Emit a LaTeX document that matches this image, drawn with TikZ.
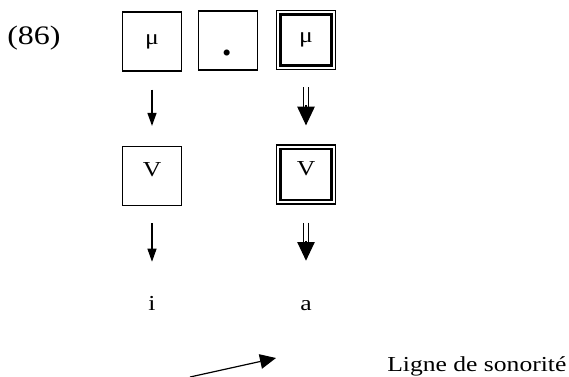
\documentclass[tikz,border=0pt]{standalone}
\usepackage{fontspec}
\setmainfont{Liberation Serif}
\usetikzlibrary{arrows.meta}
\newcommand{\widetxt}[1]{\scalebox{1.2}[1]{#1}}

\begin{document}
\begin{tikzpicture}[
    box/.style={draw, line width=0.9pt, minimum size=44.25pt, inner sep=0pt,
                font=\fontsize{16}{19}\selectfont},
    vbox/.style={box, text depth=9pt},
    inbox/.style={line width=1.9pt},
    arr/.style={-{Triangle[length=9.75pt, width=6.75pt]}, line width=0.9pt},
    dshaft/.style={double, double distance=2.5pt, line width=0.9pt},
    dtip/.style={-{Triangle[length=14pt, width=13pt]}, line width=0.9pt},
    lab/.style={font=\fontsize{16}{19}\selectfont, inner sep=0pt,
                anchor=base, text height=12pt},
    x=0.75pt, y=-0.75pt
  ]
  \useasboundingbox (0,0) rectangle (569,376);

  % example number
  \node[font=\fontsize{20}{24}\selectfont, inner sep=0pt, anchor=base west]
    (num) at (7,44) {\widetxt{(86)}};

  % top row: mu . mu
  \node[box] (m1) at (152,41.5) {\widetxt{μ}};
  \node[box] (m2) at (228,40.5) {};
  \node[font=\bfseries\fontsize{28}{30}\selectfont, inner sep=0pt, anchor=base]
    (dot) at (227,55) {.};
  \node[box] (m3) at (306,40) {\widetxt{μ}};
  \draw[inbox] ([shift={(3.3pt,-3.3pt)}]m3.north west)
    rectangle ([shift={(-3.3pt,3.3pt)}]m3.south east);

  % middle row: V V
  \node[vbox] (v1) at (152,176) {\widetxt{V}};
  \node[vbox] (v2) at (306,174.5) {\widetxt{V}};
  \draw[inbox] ([shift={(3.3pt,-3.3pt)}]v2.north west)
    rectangle ([shift={(-3.3pt,3.3pt)}]v2.south east);

  % bottom row: i a
  \node[lab] (li) at (152,310) {\widetxt{i}};
  \node[lab] (la) at (306,310) {\widetxt{a}};

  % left column
  \draw[arr, shorten <=13.5pt, shorten >=15pt] (m1) -- (v1);
  \draw[arr, shorten <=13pt, shorten >=24pt] (v1) -- (li);

  % right column
  \draw[dshaft, shorten <=12.75pt, shorten >=27pt] (m3) -- (v2);
  \draw[dtip, shorten <=26.25pt, shorten >=14.25pt] (m3) -- (v2);
  \draw[dshaft, shorten <=13.5pt, shorten >=37.5pt] (v2) -- (la);
  \draw[dtip, shorten <=27pt, shorten >=24.75pt] (v2) -- (la);

  % sonority line
  \coordinate (sstart) at (190,377);
  \coordinate (send) at (276,358);
  \draw[-{Triangle[length=12pt, width=11pt]}, line width=0.9pt] (sstart) -- (send);
  \node[font=\fontsize{16}{19}\selectfont, inner sep=0pt, anchor=base west]
    (slab) at (387,371) {\widetxt{Ligne de sonorité}};
\end{tikzpicture}
\end{document}
